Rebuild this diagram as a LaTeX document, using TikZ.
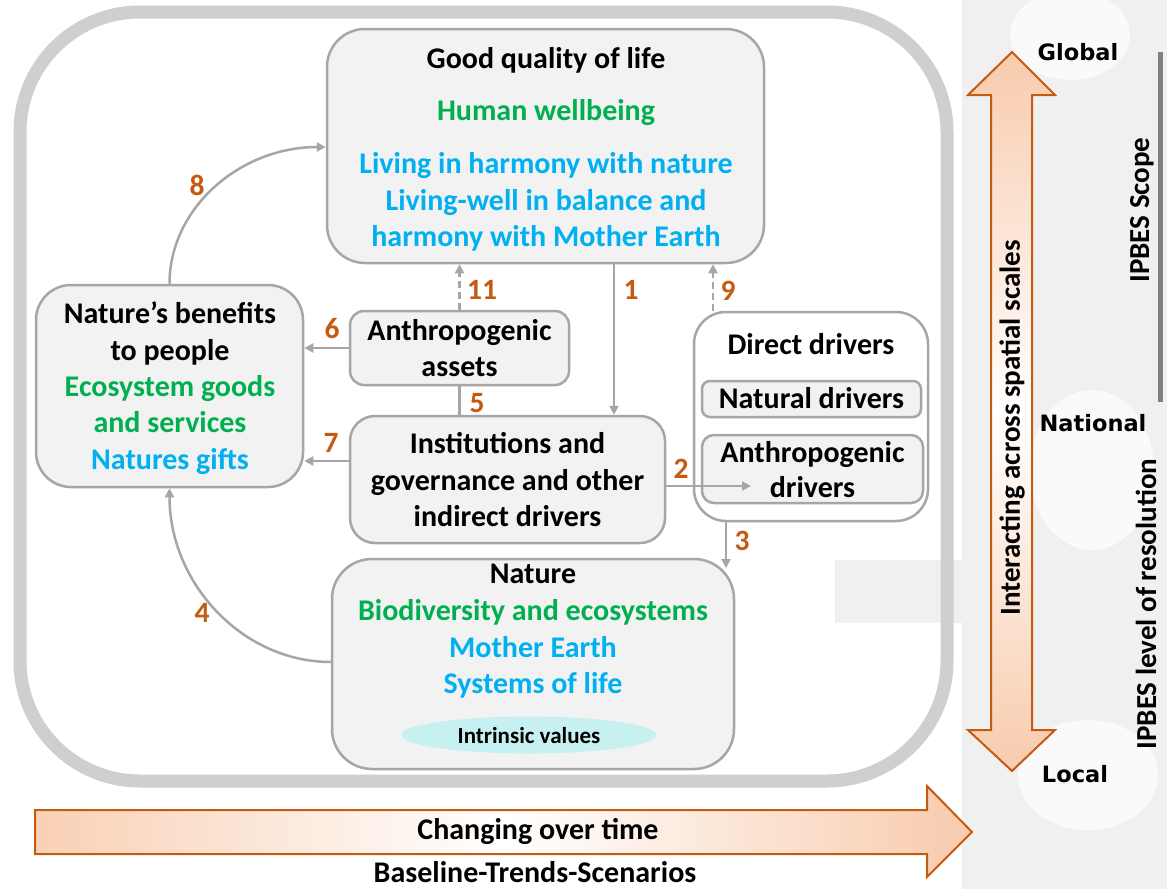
\documentclass[tikz,border=0pt]{standalone}
\usepackage{fontspec}
\setmainfont{Carlito}
\newfontfamily\dvs{DejaVu Sans}
\usetikzlibrary{arrows.meta,shapes.geometric}
\definecolor{boxgray}{HTML}{A6A6A6}
\definecolor{boxfill}{HTML}{F2F2F2}
\definecolor{framegray}{HTML}{D0CECE}
\definecolor{lgreen}{HTML}{00B050}
\definecolor{lblue}{HTML}{00B0F0}
\definecolor{numorange}{HTML}{C55A11}
\definecolor{peach}{HTML}{F8CBAD}
\definecolor{wmgray}{HTML}{F0F0F0}
\definecolor{wmlight}{HTML}{FAFAFA}
\definecolor{cyanfill}{HTML}{C7F0F0}
\definecolor{bargray}{HTML}{7F7F7F}
\begin{document}
\begin{tikzpicture}[x=1pt,y=-1pt,
  box/.style={draw=boxgray, fill=boxfill, line width=2.5pt, inner sep=0pt},
  openbox/.style={draw=boxgray, line width=2.5pt, inner sep=0pt},
  conn/.style={draw=boxgray, line width=2.5pt, -{Triangle[length=9pt,width=9pt]}},
  dconn/.style={conn, dash pattern=on 7pt off 4pt},
  plainline/.style={draw=boxgray, line width=2.5pt},
  main/.style={anchor=base, inner sep=0pt, font=\fontsize{30}{36}\selectfont\bfseries},
  num/.style={anchor=base, inner sep=0pt, text=numorange, font=\fontsize{29.5}{34}\selectfont\bfseries},
  geo/.style={anchor=base, inner sep=0pt, font=\fontsize{22.5}{26}\selectfont\dvs\bfseries},
  vert/.style={rotate=90, inner sep=0pt, font=\fontsize{29}{34}\selectfont\bfseries},
  bigarrow/.style={draw=numorange, line width=2pt}
]
\useasboundingbox (0,0) rectangle (1167,889);
\fill[white] (0,0) rectangle (1167,889);

% faint watermark
\fill[wmgray] (962,0) rectangle (1167,889);
\fill[wmgray] (835,560) rectangle (962,623);
\fill[wmlight] (1070,35) ellipse [x radius=60, y radius=45];
\fill[wmlight] (1092,470) ellipse [x radius=62, y radius=80];
\fill[wmlight] (1088,775) ellipse [x radius=70, y radius=55];
\fill[wmgray] (962,833) rectangle (1167,889);

% outer frame
\node[draw=framegray, line width=13pt, rounded corners=120pt, minimum width=927pt, minimum height=769pt, inner sep=0pt] (frame) at (483.5,396.5) {};

% boxes
\node[box, rounded corners=38pt, minimum width=437pt, minimum height=234pt] (gql) at (545.5,146) {};
\node[box, rounded corners=35pt, minimum width=267pt, minimum height=202pt] (ben) at (169.5,386) {};
\node[box, rounded corners=14pt, minimum width=219pt, minimum height=74pt] (assets) at (459.5,348) {};
\node[box, rounded corners=25pt, minimum width=315pt, minimum height=127pt] (inst) at (507.5,479.5) {};
\node[openbox, rounded corners=32pt, minimum width=234pt, minimum height=209pt] (dd) at (811,416.5) {};
\node[box, rounded corners=8pt, minimum width=219pt, minimum height=36pt] (natdr) at (811.5,399) {};
\node[box, rounded corners=12pt, minimum width=221pt, minimum height=68pt] (antdr) at (812.5,469) {};
\node[box, rounded corners=40pt, minimum width=402pt, minimum height=210pt] (nat) at (533,664) {};
\node[ellipse, fill=cyanfill, minimum width=255pt, minimum height=37pt, inner sep=0pt] (iv) at (529,735) {};

% texts: good quality of life
\node[main] (g1) at (546,68) {Good quality of life};
\node[main, text=lgreen] (g2) at (546,120) {Human wellbeing};
\node[main, text=lblue] (g3) at (546,173) {Living in harmony with nature};
\node[main, text=lblue] (g4) at (546,210) {Living-well in balance and};
\node[main, text=lblue] (g5) at (546,246) {harmony with Mother Earth};
% benefits
\node[main] (b1) at (170,323) {Nature’s benefits};
\node[main] (b2) at (170,360) {to people};
\node[main, text=lgreen] (b3) at (170,396) {Ecosystem goods};
\node[main, text=lgreen] (b4) at (170,432) {and services};
\node[main, text=lblue] (b5) at (170,469) {Natures gifts};
% assets
\node[main] (a1) at (459.5,340) {Anthropogenic};
\node[main] (a2) at (459.5,376) {assets};
% institutions
\node[main] (i1) at (507.5,453) {Institutions and};
\node[main] (i2) at (507.5,490) {governance and other};
\node[main] (i3) at (507.5,526) {indirect drivers};
% direct drivers
\node[main] (d1) at (811,354) {Direct drivers};
\node[main] (d2) at (811.5,408) {Natural drivers};
\node[main] (d3) at (812.5,462) {Anthropogenic};
\node[main] (d4) at (812.5,497) {drivers};
% nature
\node[main] (n1) at (533,583) {Nature};
\node[main, text=lgreen] (n2) at (533,620) {Biodiversity and ecosystems};
\node[main, text=lblue] (n3) at (533,657) {Mother Earth};
\node[main, text=lblue] (n4) at (533,693) {Systems of life};
\node[anchor=base, inner sep=0pt, font=\fontsize{23}{27}\selectfont\bfseries] (ivt) at (529,743) {Intrinsic values};

% connectors
\draw[conn] (ben.north) .. controls (169.5,208) and (240,147) .. (gql.west |- 0,147);
\draw[conn] (nat.west |- 0,662) .. controls (243,662) and (169.5,584) .. (ben.south);
\draw[dconn] (assets.north) -- (gql.south -| assets.north);
\draw[conn] (gql.south -| 614,0) -- (inst.north -| 614,0);
\draw[dconn] (dd.north -| 713,0) -- (gql.south -| 713,0);
\draw[conn] (assets.west) -- (ben.east |- assets.west);
\draw[plainline] (assets.south) -- (inst.north -| assets.south);
\draw[conn] (inst.west |- 0,461) -- (ben.east |- 0,461);
\coordinate (c2) at (751,486);
\draw[conn] (inst.east |- c2) -- (c2);
\coordinate (c3) at (726,568);
\draw[conn] (dd.south -| c3) -- (c3);

% numbers
\node[num] (l8) at (197,195) {8};
\node[num] (l11) at (482,299) {11};
\node[num] (l1) at (631,299) {1};
\node[num] (l9) at (728,300) {9};
\node[num] (l6) at (332,338) {6};
\node[num] (l5) at (477,412) {5};
\node[num] (l7) at (331,452) {7};
\node[num] (l2) at (681,478) {2};
\node[num] (l3) at (742,550) {3};
\node[num] (l4) at (202,622) {4};

% horizontal time arrow
\path[bigarrow, left color=peach!90, right color=peach, middle color=white]
  (35,810) -- (927,810) -- (927,786) -- (972,832) -- (927,877) -- (927,854) -- (35,854) -- cycle;
\node[main] (t1) at (538,839) {Changing over time};
\node[main] (t2) at (535,882) {Baseline-Trends-Scenarios};

% vertical scale arrow
\path[bigarrow, top color=peach, bottom color=peach, middle color=white]
  (991,95) -- (968,95) -- (1012,52) -- (1055,95) -- (1032,95) -- (1032,730) -- (1055,730) -- (1012,771) -- (968,730) -- (991,730) -- cycle;
\node[vert] (s1) at (1012,428) {Interacting across spatial scales};

\node[geo] (gl) at (1078,60) {Global};
\node[geo] (na) at (1093,431) {National};
\node[geo] (lo) at (1075,782) {Local};

\draw[bargray, line width=5pt] (1160,52) -- (1160,402);
\node[vert] (sc) at (1142,210) {IPBES Scope};
\node[vert] (rs) at (1146,604) {IPBES level of resolution};
\end{tikzpicture}
\end{document}
